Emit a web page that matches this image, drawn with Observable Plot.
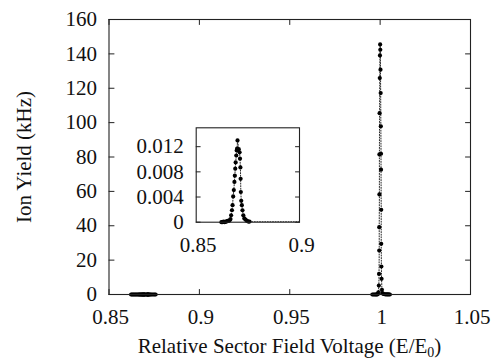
<!DOCTYPE html>
<html><head><meta charset="utf-8">
<script src="https://cdn.jsdelivr.net/npm/d3@7"></script>
<script src="https://cdn.jsdelivr.net/npm/@observablehq/plot@0.6"></script>
<style>
html,body{margin:0;padding:0;background:#fff;}
#chart{position:relative;width:492px;height:358px;font-family:"Liberation Serif","Times New Roman",serif;color:#111;}
#chart > svg{position:absolute;left:0;top:0;}
#chart > svg.inset{left:130px;top:115px;}
#chart svg text{font-family:"Liberation Serif","Times New Roman",serif !important;}
.xtitle{position:absolute;left:89.5px;width:400px;text-align:center;top:334px;font-size:21px;line-height:24px;white-space:nowrap;}
.xtitle sub{font-size:14px;vertical-align:-4px;line-height:0;}
.ytitle{position:absolute;left:27px;top:156.5px;font-size:21px;line-height:24px;white-space:nowrap;transform:translate(-50%,-50%) rotate(-90deg);transform-origin:center;margin-left:-3px;}
</style></head><body><div id="chart"></div>
<script>
// Relative sector field voltage (E/E0)
const xVals = [
  0.8622,0.8627,0.8632,0.8637,0.8642,0.8647,0.8652,0.8657,0.8662,
  0.8666,0.8669,0.8673,0.8676,0.8679,0.8682,0.8685,0.8687,0.8689,0.8691,0.8694,0.8696,0.8698,0.8700,
  0.8706,0.8710,0.8712,0.8714,0.8715,0.8716,0.8718,0.8721,0.8724,0.8728,0.8733,0.8739,0.8746,0.8752,0.8758,
  0.9957,0.9963,0.9969,0.9974,0.9979,0.9983,0.9987,0.9990,
  0.9993,0.9994,0.9995,0.9995,0.9996,0.9996,0.9997,0.9998,
  0.9999,1.0000,1.0001,
  1.0002,1.0003,1.0004,1.0005,1.0005,1.0006,1.0006,1.0007,1.0008,1.0010,
  1.0013,1.0018,1.0024,1.0030,1.0036,1.0042,1.0048,1.0054
];
// Ion yield (kHz)
const yVals = [
  0,0,0.0001,0,0.0001,0.0001,0.0002,0.0002,0.0003,
  0.0005,0.0011,0.0019,0.0027,0.0041,0.0051,0.0064,0.0074,0.0085,0.0095,0.0106,0.0114,0.0117,0.0130,
  0.0116,0.0111,0.0101,0.0087,0.0069,0.0048,0.0034,0.0027,0.0019,0.0011,0.0006,0.0004,0.0002,0.0001,0.0001,
  0.0001,0.0002,0.0005,0.001,0.01,0.05,0.2,1.2,
  5.2,12.0,25.6,39.2,58.2,81.5,105.5,125.9,
  139.1,145.5,142.4,
  130.8,117.2,97.9,81.9,72.6,49.3,29.5,16.3,9.1,2.7,
  0.8,0.3,0.15,0.08,0.05,0.03,0.02,0.01
];
const xTicks = [0.85, 0.9, 0.95, 1, 1.05];
const yTicks = [0, 20, 40, 60, 80, 100, 120, 140, 160];
const insetXTicks = [0.85, 0.9];
const insetYTicks = [0, 0.004, 0.008, 0.012];
const xTitle = "Relative Sector Field Voltage (E/E";
const xTitleSub = "0";
const yTitle = "Ion Yield (kHz)";

const data = xVals.map((x, i) => ({x, y: yVals[i]}));
const FONT = "Liberation Serif, Times New Roman, serif";
const INK = "#111";

const tickShape = {draw(ctx, l) { ctx.moveTo(0, 0); ctx.lineTo(0, -l); }};
function inTicks(values, side, len) {
  const rot = {bottom: 0, top: 180, left: 90, right: -90}[side];
  const ch = (side === "bottom" || side === "top") ? {x: d => d} : {y: d => d};
  return Plot.vector(values, {...ch, frameAnchor: side, length: len, rotate: rot, anchor: "start",
    shape: tickShape, stroke: "#222", strokeWidth: 1});
}

const main = Plot.plot({
  width: 492, height: 358,
  marginLeft: 108.5, marginRight: 22, marginTop: 19, marginBottom: 64,
  style: {fontFamily: FONT, fontSize: "21px", background: "white", color: INK},
  x: {domain: [0.85, 1.05]},
  y: {domain: [0, 160]},
  marks: [
    Plot.line(data, {x: "x", y: "y", stroke: INK, strokeWidth: 0.9, strokeDasharray: "1,1.6"}),
    Plot.dot(data, {x: "x", y: "y", r: 2.1, fill: "#000"}),
    Plot.frame({stroke: "#222", strokeWidth: 1.1}),
    inTicks(xTicks, "bottom", 5), inTicks(xTicks, "top", 5),
    inTicks(yTicks, "left", 5), inTicks(yTicks, "right", 5),
    Plot.axisX({ticks: xTicks, tickSize: 0, tickPadding: 15, tickFormat: d => String(d), label: null, dx: 1.5, fontFamily: FONT}),
    Plot.axisY({ticks: yTicks, tickSize: 0, tickPadding: 12, tickFormat: d => String(d), label: null, fontFamily: FONT})
  ]
});

const inset = Plot.plot({
  width: 190, height: 150,
  marginLeft: 65.7, marginRight: 21, marginTop: 12.3, marginBottom: 43.3,
  style: {fontFamily: FONT, fontSize: "21px", background: "transparent", color: INK, overflow: "visible"},
  x: {domain: [0.85, 0.9]},
  y: {domain: [0, 0.015]},
  marks: [
    Plot.frame({fill: "white"}),
    Plot.line(data, {x: "x", y: "y", stroke: INK, strokeWidth: 0.9, strokeDasharray: "1,1.6", clip: true}),
    Plot.dot(data, {x: "x", y: "y", r: 2.1, fill: "#000", filter: d => d.x <= 0.9}),
    Plot.frame({stroke: "#222", strokeWidth: 1.1}),
    inTicks(insetYTicks, "left", 4), inTicks(insetYTicks, "right", 4),
    Plot.axisX({ticks: insetXTicks, tickSize: 0, tickPadding: 15, tickFormat: d => String(d), label: null, dx: 2, fontFamily: FONT}),
    Plot.axisY({ticks: insetYTicks, tickSize: 0, tickPadding: 12.5, tickFormat: d => String(d), label: null, fontFamily: FONT})
  ]
});
inset.classList.add("inset");

const chart = document.getElementById("chart");
chart.appendChild(main);
chart.appendChild(inset);

// axis titles as HTML text
const xt = document.createElement("div");
xt.className = "xtitle";
xt.append(xTitle);
const sub = document.createElement("sub");
sub.textContent = xTitleSub;
xt.append(sub, ")");
chart.appendChild(xt);
const yt = document.createElement("div");
yt.className = "ytitle";
yt.textContent = yTitle;
chart.appendChild(yt);
</script></body></html>
